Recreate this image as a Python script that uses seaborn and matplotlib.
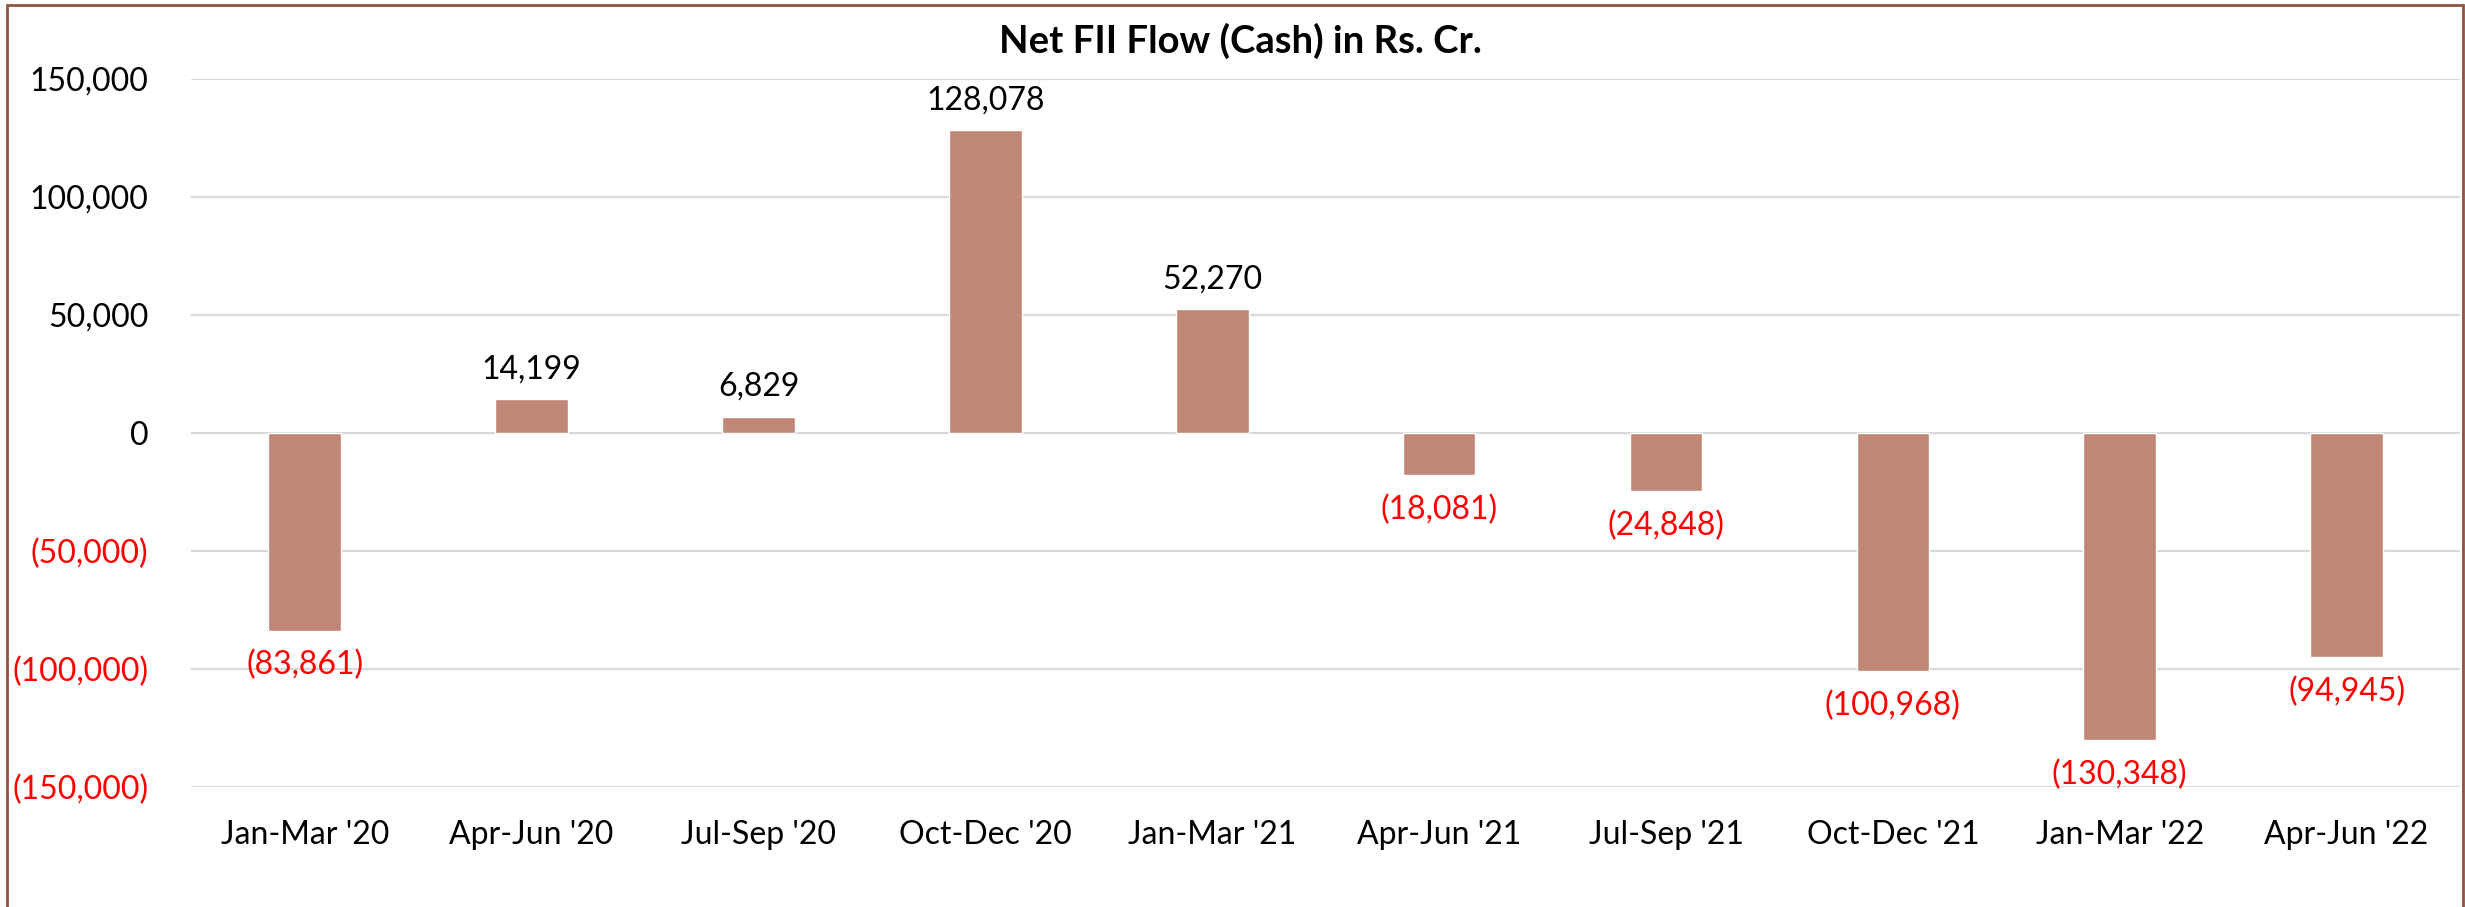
import matplotlib
matplotlib.use("Agg")
import matplotlib.pyplot as plt
import seaborn as sns
import pandas as pd
from matplotlib.patches import Rectangle

quarters = ["Jan-Mar '20", "Apr-Jun '20", "Jul-Sep '20", "Oct-Dec '20", "Jan-Mar '21",
            "Apr-Jun '21", "Jul-Sep '21", "Oct-Dec '21", "Jan-Mar '22", "Apr-Jun '22"]
net_fii = [-83861, 14199, 6829, 128078, 52270, -18081, -24848, -100968, -130348, -94945]
y_ticks = [-150000, -100000, -50000, 0, 50000, 100000, 150000]
title = "Net FII Flow (Cash) in Rs. Cr."

BAR = "#C08676"
NEG = "#FF0000"

def fmt(v):
    s = f"{abs(v):,.0f}"
    return f"({s})" if v < 0 else s

sns.set_theme(style="white")
plt.rcParams["font.family"] = ["Lato", "DejaVu Sans"]

W, H = 2465, 907
fig = plt.figure(figsize=(W / 100, H / 100), dpi=100)
ax = fig.add_axes([191.3 / W, 1 - 786.7 / H, (2460 - 191.3) / W, (786.7 - 78.7) / H])

df = pd.DataFrame({"quarter": quarters, "value": net_fii})
sns.barplot(data=df, x="quarter", y="value", color=BAR, saturation=1, width=0.32,
            ax=ax, zorder=3)

ax.set_ylim(-150000, 150000)
ax.set_xlim(-0.5, len(quarters) - 0.5)
ax.set_yticks(y_ticks)
ax.set_yticklabels([fmt(v) for v in y_ticks])
for lab, v in zip(ax.get_yticklabels(), y_ticks):
    lab.set_color(NEG if v < 0 else "black")
ax.yaxis.grid(True, color="#D9D9D9", linewidth=1.6, zorder=0)
ax.xaxis.grid(False)
for s in ax.spines.values():
    s.set_visible(False)
ax.tick_params(axis="y", length=0, pad=31, labelsize=23)
ax.tick_params(axis="x", length=0, pad=24, labelsize=23)
for lab in ax.get_xticklabels():
    lab.set_color("black")
ax.set_xlabel("")
ax.set_ylabel("")

for i, v in enumerate(net_fii):
    if v >= 0:
        ax.annotate(fmt(v), (i, v), xytext=(0, 15), textcoords="offset points",
                    ha="center", va="baseline", fontsize=23, color="black")
    else:
        ax.annotate(fmt(v), (i, v), xytext=(0, -14), textcoords="offset points",
                    ha="center", va="top", fontsize=23, color=NEG)

fig.text(1240 / W, 1 - 53 / H, title, ha="center", va="baseline",
         fontsize=27.5, fontweight="bold", color="black")

fig.patches.append(Rectangle((6.5 / W, -0.05), (2462.5 - 6.5) / W, 1.05 - 4.5 / H,
                             transform=fig.transFigure, fill=False,
                             edgecolor="#8C5444", linewidth=2, zorder=10))

fig.savefig("out.png", dpi=100, facecolor="white")
